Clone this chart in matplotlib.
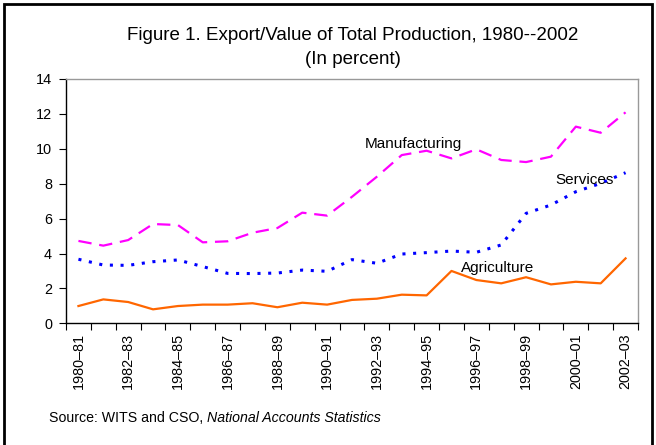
import matplotlib.pyplot as plt
from matplotlib.patches import Rectangle

plt.rcParams['font.family'] = ['Liberation Sans', 'DejaVu Sans']

# fiscal years 1980-81 .. 2002-03
periods = [f"{y}\u2013{str(y + 1)[-2:]}" for y in range(1980, 2003)]

manufacturing = [4.72, 4.45, 4.77, 5.69, 5.63, 4.64, 4.70, 5.19, 5.46, 6.34, 6.17, 7.25,
                 8.40, 9.64, 9.89, 9.45, 9.97, 9.36, 9.24, 9.55, 11.27, 10.92, 12.09]
services = [3.67, 3.34, 3.32, 3.53, 3.63, 3.25, 2.86, 2.85, 2.88, 3.05, 2.98, 3.65,
            3.44, 3.97, 4.05, 4.14, 4.07, 4.49, 6.30, 6.78, 7.54, 8.02, 8.63]
agriculture = [0.99, 1.37, 1.22, 0.80, 0.99, 1.07, 1.07, 1.15, 0.92, 1.18, 1.07, 1.34,
               1.41, 1.64, 1.60, 3.00, 2.48, 2.29, 2.64, 2.23, 2.38, 2.29, 3.72]

fig = plt.figure(figsize=(6.56, 4.45), dpi=100)
ax = fig.add_axes([66 / 656, 1 - 323.3 / 445, 572 / 656, 244.3 / 445])

x = list(range(len(periods)))
ax.plot(x, manufacturing, color='#FF00FF', lw=1.6, dashes=(6, 3.5))
ax.plot(x, services, color='#0000FF', lw=2.2, dashes=(1, 2.5))
ax.plot(x, agriculture, color='#FF6600', lw=1.6)

ax.set_xlim(-0.5, len(periods) - 0.5)
ax.set_ylim(0, 14)
ax.set_yticks(range(0, 15, 2))
ax.set_xticks([i - 0.5 for i in range(len(periods) + 1)], minor=False)
ax.set_xticklabels([])
ax.set_xticks(x[::2], minor=True)
ax.set_xticklabels(periods[::2], minor=True, rotation=90, fontsize=10.4)
ax.tick_params(axis='x', which='minor', length=0, pad=7)
ax.tick_params(axis='x', which='major', length=5, direction='out', width=0.8)
ax.tick_params(axis='y', length=5, direction='out', width=0.8, labelsize=10.4, pad=5)

for s in ['top', 'right']:
    ax.spines[s].set_color('#999999')
    ax.spines[s].set_linewidth(1)
for s in ['left', 'bottom']:
    ax.spines[s].set_color('black')
    ax.spines[s].set_linewidth(1)

ax.text(13.46, 10.3, 'Manufacturing', fontsize=11, ha='center', va='center')
ax.text(20.34, 8.2, 'Services', fontsize=11, ha='center', va='center')
ax.text(16.85, 3.17, 'Agriculture', fontsize=11, ha='center', va='center')

fig.text(352.5 / 656, 1 - 35 / 445, 'Figure 1. Export/Value of Total Production, 1980--2002',
         ha='center', va='center', fontsize=13.5)
fig.text(352.5 / 656, 1 - 59 / 445, '(In percent)', ha='center', va='center', fontsize=13.5)

src = fig.text(49 / 656, 1 - 418 / 445, 'Source: WITS and CSO, ', fontsize=10.2, va='center')
fig.canvas.draw()
bb = src.get_window_extent()
fig.text(bb.x1 / fig.bbox.width, 1 - 418 / 445, 'National Accounts Statistics',
         fontsize=10.2, va='center', style='italic')

fig.patches.append(Rectangle((4 / 656, -0.05), 648 / 656, 1.05 - 4 / 445,
                             transform=fig.transFigure, fill=False, ec='black', lw=2))

fig.savefig('out.png', dpi=100)
